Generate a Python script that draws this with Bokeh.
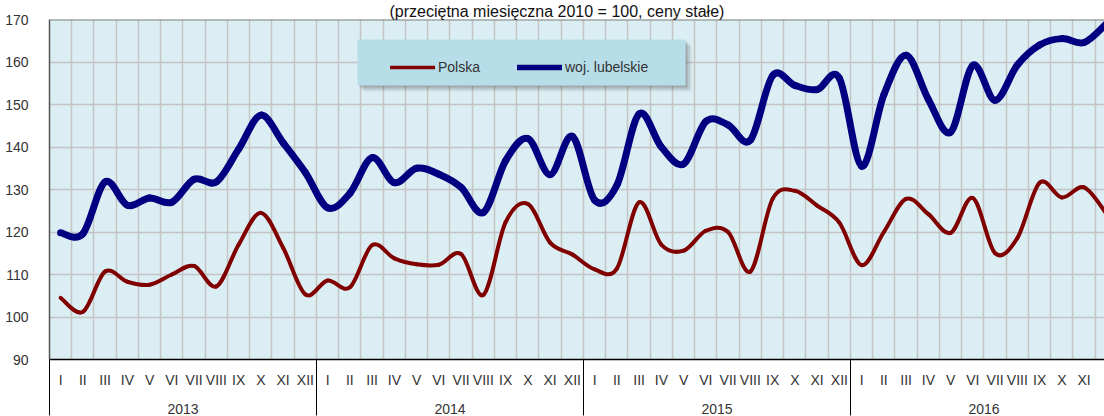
import numpy as np
from bokeh.plotting import figure
from bokeh.models import (Range1d, FixedTicker, LinearAxis, Legend, LegendItem,
                          BoxAnnotation, ColumnDataSource, Span)
from bokeh.embed import file_html
from bokeh.resources import INLINE

TITLE = "(przeciętna miesięczna 2010 = 100, ceny stałe)"
YEARS = ["2013", "2014", "2015", "2016"]
MONTHS = ["I", "II", "III", "IV", "V", "VI", "VII", "VIII", "IX", "X", "XI", "XII"]
SERIES_NAMES = ["Polska", "woj. lubelskie"]
Y_TICKS = [90, 100, 110, 120, 130, 140, 150, 160, 170]

POLSKA = [
    104.5, 101.2, 110.7, 108.3, 107.6, 110.0, 112.0, 107.2, 117.0, 124.5, 116.3, 105.3,
    108.6, 107.0, 116.9, 113.8, 112.4, 112.3, 114.8, 105.2, 122.3, 126.6, 117.5, 114.7,
    111.2, 111.4, 127.0, 117.0, 115.6, 120.3, 120.0, 110.7, 127.8, 129.7, 126.2, 122.2,
    112.2, 120.0, 127.8, 124.2, 119.8, 128.0, 115.0, 118.6, 131.6, 128.1, 130.5, 124.3,
]
LUBELSKIE = [
    119.8, 119.6, 131.8, 126.3, 128.0, 127.0, 132.4, 131.8, 139.5, 147.5, 141.0, 134.0,
    125.7, 129.1, 137.5, 131.6, 135.0, 133.6, 130.5, 124.6, 136.8, 142.0, 133.5, 142.5,
    127.5, 131.0, 147.8, 140.0, 136.0, 146.0, 145.2, 141.6, 156.8, 154.5, 153.5, 156.2,
    135.5, 152.3, 161.6, 151.2, 143.5, 159.2, 151.0, 159.3, 164.0, 165.5, 164.6, 169.0,
]

n = len(POLSKA)
xs = np.arange(n, dtype=float)  # month centres (integer positions)


def bezier_source(x, y):
    """Smooth (Catmull-Rom style) bezier segments through the data points."""
    x = np.asarray(x, float)
    y = np.asarray(y, float)
    xp = np.concatenate([[x[0]], x, [x[-1]]])
    yp = np.concatenate([[y[0]], y, [y[-1]]])
    m = len(x)
    return ColumnDataSource(dict(
        x0=x[:-1], y0=y[:-1], x1=x[1:], y1=y[1:],
        cx0=x[:-1] + (xp[2:m + 1] - xp[0:m - 1]) / 6.0,
        cy0=y[:-1] + (yp[2:m + 1] - yp[0:m - 1]) / 6.0,
        cx1=x[1:] - (xp[3:m + 2] - xp[1:m]) / 6.0,
        cy1=y[1:] - (yp[3:m + 2] - yp[1:m]) / 6.0,
    ))


LABEL_FONT = "Liberation Sans"
TEXT_COLOR = "#333333"
RED = "#800000"
NAVY = "#000080"
X_START, X_END = -0.5, 46.916

p = figure(width=1104, height=416,
           x_range=Range1d(X_START, X_END), y_range=Range1d(90, 170),
           output_backend="svg", toolbar_location=None,
           min_border_left=49, min_border_right=0, min_border_top=18, min_border_bottom=56,
           background_fill_color="#dbeef4", border_fill_color="white",
           outline_line_color=None)

# title (above the plot area)
p.title.text = TITLE
p.title.text_font = "Liberation Sans"
p.title.text_font_size = "16px"
p.title.text_font_style = "normal"
p.title.text_color = "#111111"
p.title.align = "left"
p.title.offset = 340
p.title.standoff = 0

# grids
p.xgrid.ticker = FixedTicker(ticks=[i - 0.5 for i in range(1, n)])
p.ygrid.ticker = FixedTicker(ticks=Y_TICKS)
p.grid.grid_line_color = "#c4c4c4"
p.grid.grid_line_width = 1.5

# top border of the plot area
p.add_layout(Span(location=Y_TICKS[-1], dimension="width",
                  line_color="#808080", line_width=2))

# y axis
p.yaxis.ticker = FixedTicker(ticks=Y_TICKS)
p.yaxis.major_tick_line_color = None
p.yaxis.minor_tick_line_color = None
p.yaxis.axis_line_color = "#555555"
p.yaxis.axis_line_width = 1.5
p.yaxis.major_label_text_font = LABEL_FONT
p.yaxis.major_label_text_font_size = "14px"
p.yaxis.major_label_text_color = TEXT_COLOR
p.yaxis.major_label_standoff = 15

# x axis #1: black base line + year separators (drawn downward)
year_bounds = [12 * k - 0.5 for k in range(len(YEARS))]
ax0 = p.xaxis[0]
ax0.ticker = FixedTicker(ticks=year_bounds)
ax0.major_label_overrides = {b: "" for b in year_bounds}
ax0.major_label_text_font_size = "0px"
ax0.major_label_standoff = 0
ax0.major_tick_in = -56
ax0.major_tick_out = 0
ax0.major_tick_line_color = "black"
ax0.major_tick_line_width = 1
ax0.minor_tick_line_color = None
ax0.axis_line_color = "black"
ax0.axis_line_width = 1.5

# x axis #2: month labels
month_labels = {i: MONTHS[i % 12] for i in range(n)}
ax1 = LinearAxis(ticker=FixedTicker(ticks=list(range(n))),
                 major_label_overrides=month_labels,
                 axis_line_color=None, major_tick_line_color=None,
                 minor_tick_line_color=None,
                 major_label_text_font=LABEL_FONT,
                 major_label_text_font_size="14px",
                 major_label_text_color=TEXT_COLOR,
                 major_label_standoff=6)
p.add_layout(ax1, "below")

# x axis #3: year labels (separate range: one unit per year, centred on integers)
p.extra_x_ranges["years"] = Range1d((X_START - 5.5) / 12.0, (X_END - 5.5) / 12.0)
ax2 = LinearAxis(x_range_name="years",
                 ticker=FixedTicker(ticks=list(range(len(YEARS)))),
                 major_label_overrides={k: yr for k, yr in enumerate(YEARS)},
                 axis_line_color=None, major_tick_line_color=None,
                 minor_tick_line_color=None,
                 major_label_text_font=LABEL_FONT,
                 major_label_text_font_size="14px",
                 major_label_text_color=TEXT_COLOR,
                 major_label_standoff=7)
p.add_layout(ax2, "below")

# series
p.bezier(x0="x0", y0="y0", x1="x1", y1="y1", cx0="cx0", cy0="cy0", cx1="cx1", cy1="cy1",
         source=bezier_source(xs, POLSKA), line_color=RED, line_width=4, line_cap="round")
p.bezier(x0="x0", y0="y0", x1="x1", y1="y1", cx0="cx0", cy0="cy0", cx1="cx1", cy1="cy1",
         source=bezier_source(xs, LUBELSKIE), line_color=NAVY, line_width=7, line_cap="round")

# legend box with shadow
for off, a in [(6, 0.10), (4, 0.15), (2, 0.20)]:
    p.add_layout(BoxAnnotation(left=308 + off, right=636 + off, bottom=274 - off, top=320 - off,
                               left_units="screen", right_units="screen",
                               bottom_units="screen", top_units="screen",
                               fill_color="#404040", fill_alpha=a, line_color=None))
p.add_layout(BoxAnnotation(left=308, right=636, bottom=274, top=320,
                           left_units="screen", right_units="screen",
                           bottom_units="screen", top_units="screen",
                           fill_color="#b7dde8", fill_alpha=1.0, line_color=None))

# legend proxies (placed below the visible y range)
r_pl = p.line(x=[0, 1], y=[0, 0], line_color=RED, line_width=3.5, line_cap="round")
r_lu = p.line(x=[0, 1], y=[0, 0], line_color=NAVY, line_width=5.5, line_cap="round")
legend = Legend(items=[LegendItem(label=SERIES_NAMES[0], renderers=[r_pl]),
                       LegendItem(label=SERIES_NAMES[1], renderers=[r_lu])],
                location=(341, 284), orientation="horizontal",
                glyph_width=45, glyph_height=16, label_standoff=3, label_width=79,
                spacing=0, padding=5, margin=0,
                background_fill_alpha=0, border_line_color=None,
                label_text_font=LABEL_FONT, label_text_font_size="14px",
                label_text_color=TEXT_COLOR)
p.add_layout(legend, "center")

open("out.html", "w").write(file_html(p, INLINE))
